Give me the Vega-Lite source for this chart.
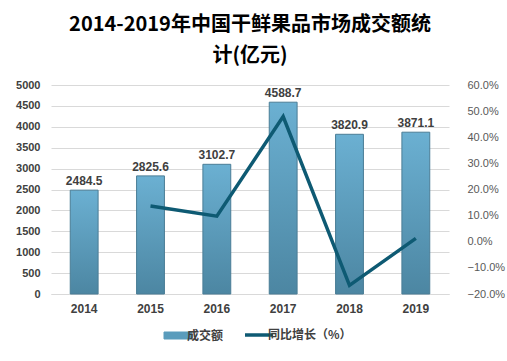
{
  "$schema": "https://vega.github.io/schema/vega-lite/v6.json",
  "width": 398,
  "height": 209,
  "autosize": {"type": "none"},
  "padding": {"left": 51, "top": 85, "right": 58, "bottom": 67},
  "background": "white",
  "config": {"view": {"stroke": null}, "font": "Noto Sans CJK SC"},
  "title": {
    "text": ["2014-2019年中国干鲜果品市场成交额统", "计(亿元)"],
    "fontSize": 20,
    "font": "Noto Sans CJK SC",
    "fontWeight": "bold",
    "color": "#000000",
    "lineHeight": 31,
    "offset": 13,
    "anchor": "middle"
  },
  "data": {
    "values": [
      {"year": "2014", "amount": 2484.5, "growth": null},
      {"year": "2015", "amount": 2825.6, "growth": 0.137},
      {"year": "2016", "amount": 3102.7, "growth": 0.098},
      {"year": "2017", "amount": 4588.7, "growth": 0.479},
      {"year": "2018", "amount": 3820.9, "growth": -0.167},
      {"year": "2019", "amount": 3871.1, "growth": 0.013}
    ]
  },
  "encoding": {
    "x": {
      "field": "year",
      "type": "nominal",
      "scale": {"paddingInner": 0.58, "paddingOuter": 0.29},
      "axis": {
        "title": null,
        "labelAngle": 0,
        "labelFontSize": 12,
        "labelFontWeight": "bold",
        "labelColor": "#404040",
        "labelPadding": 9,
        "ticks": false,
        "domainColor": "#d9d9d9",
        "labelFont": "Liberation Sans"
      }
    }
  },
  "layer": [
    {
      "encoding": {
        "y": {
          "field": "amount",
          "type": "quantitative",
          "scale": {"domain": [0, 5000]},
          "axis": {
            "title": null,
            "format": "d",
            "values": [0, 500, 1000, 1500, 2000, 2500, 3000, 3500, 4000, 4500, 5000],
            "grid": true,
            "gridColor": "#d9d9d9",
            "domain": false,
            "ticks": false,
            "labelPadding": 11,
            "labelFontSize": 11,
            "labelFontWeight": "bold",
            "labelColor": "#404040",
            "labelFont": "Liberation Sans"
          }
        }
      },
      "layer": [
        {
          "mark": {
            "type": "bar",
            "fill": {
              "gradient": "linear",
              "x1": 0, "y1": 0, "x2": 0, "y2": 1,
              "stops": [
                {"offset": 0, "color": "#6bb0d2"},
                {"offset": 1, "color": "#4c86a2"}
              ]
            },
            "stroke": "#4a7d96",
            "strokeWidth": 1
          }
        },
        {
          "mark": {
            "type": "text",
            "dy": -9,
            "fontSize": 12,
            "fontWeight": "bold",
            "color": "#404040",
            "font": "Liberation Sans"
          },
          "encoding": {
            "text": {"field": "amount", "type": "quantitative", "format": ".1f"}
          }
        }
      ]
    },
    {
      "mark": {"type": "line", "strokeWidth": 3.5, "strokeJoin": "miter"},
      "transform": [{"filter": "datum.growth !== null"}],
      "encoding": {
        "y": {
          "field": "growth",
          "type": "quantitative",
          "scale": {"domain": [-0.2, 0.6]},
          "axis": {
            "title": null,
            "orient": "right",
            "format": ".1%",
            "values": [-0.2, -0.1, 0, 0.1, 0.2, 0.3, 0.4, 0.5, 0.6],
            "grid": false,
            "domain": false,
            "ticks": false,
            "labelPadding": 18,
            "labelFontSize": 11,
            "labelColor": "#595959",
            "labelFont": "Liberation Sans"
          }
        },
        "color": {
          "datum": "同比增长（%）",
          "scale": {"domain": ["成交额", "同比增长（%）"], "range": ["#5a9cbc", "#0e5a73"]},
          "legend": {
            "title": null,
            "orient": "none",
            "legendX": 121,
            "legendY": 244,
            "direction": "horizontal",
            "labelFontSize": 12,
            "labelColor": "#404040",
            "labelFontWeight": "bold",
            "symbolSize": 784,
            "columnPadding": 14,
            "labelOffset": 3,
            "encode": {
              "symbols": {
                "update": {
                  "shape": {"signal": "datum.value === '成交额' ? 'M-1,-0.25H1V0.25H-1Z' : 'stroke'"},
                  "fill": {"signal": "datum.value === '成交额' ? '#5a9cbc' : 'transparent'"},
                  "stroke": {"signal": "datum.value === '成交额' ? '#4a7d96' : '#0e5a73'"},
                  "strokeWidth": {"signal": "datum.value === '成交额' ? 1 : 3.5"}
                }
              }
            }
          }
        }
      }
    }
  ],
  "resolve": {"scale": {"y": "independent"}}
}
